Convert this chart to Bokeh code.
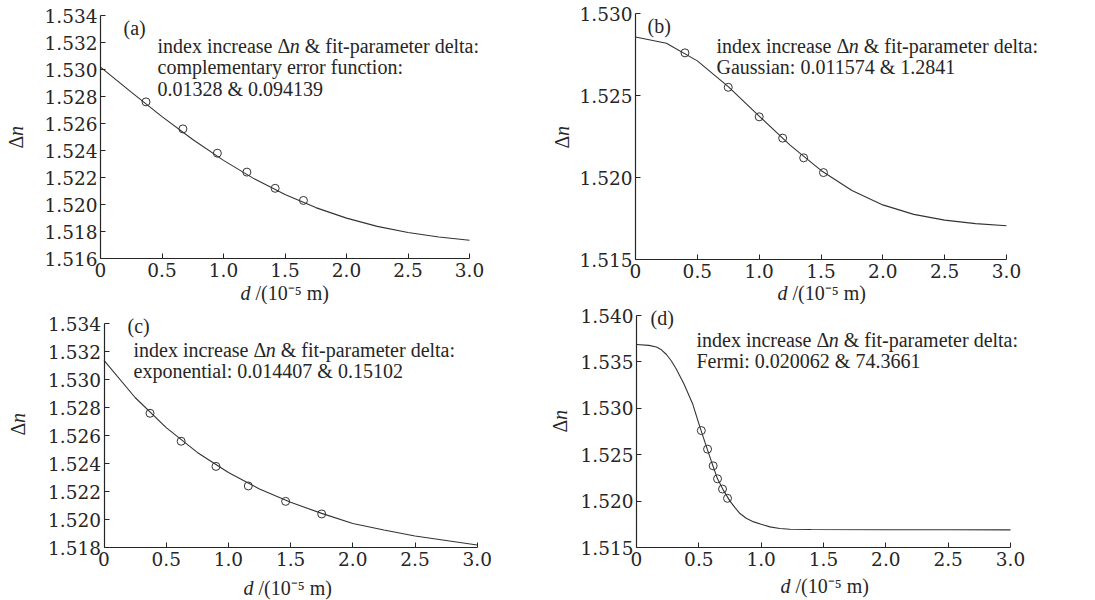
import math
from bokeh.plotting import figure
from bokeh.models import Range1d, FixedTicker, Label, LinearAxis
from bokeh.layouts import column, row
from bokeh.embed import file_html
from bokeh.resources import INLINE

# ---------------- data ----------------
x_ticks = [0, 0.5, 1.0, 1.5, 2.0, 2.5, 3.0]
x_tick_labels = ["0", "0.5", "1.0", "1.5", "2.0", "2.5", "3.0"]

a_y_ticks = [1.516, 1.518, 1.520, 1.522, 1.524, 1.526, 1.528, 1.530, 1.532, 1.534]
b_y_ticks = [1.515, 1.520, 1.525, 1.530]
c_y_ticks = [1.518, 1.520, 1.522, 1.524, 1.526, 1.528, 1.530, 1.532, 1.534]
d_y_ticks = [1.515, 1.520, 1.525, 1.530, 1.535, 1.540]

curve_x = [0, 0.25, 0.5, 0.75, 1.0, 1.25, 1.5, 1.75, 2.0, 2.25, 2.5, 2.75, 3.0]
a_curve_y = [1.53018, 1.52832, 1.52651, 1.52481, 1.52327, 1.52190, 1.52074, 1.51977,
             1.51899, 1.51838, 1.51792, 1.51759, 1.51735]
b_curve_y = [1.52857, 1.52819, 1.52711, 1.52554, 1.52374, 1.52197, 1.52043, 1.51921,
             1.51833, 1.51775, 1.51740, 1.51719, 1.51706]
c_curve_y = [1.53138, 1.52873, 1.52657, 1.52480, 1.52336, 1.52218, 1.52123, 1.52044,
             1.51972, 1.51925, 1.51882, 1.51850, 1.51818]
d_curve_x = [0, 0.10, 0.16, 0.20, 0.24, 0.28, 0.32, 0.38, 0.45, 0.50, 0.55, 0.60, 0.65,
             0.70, 0.75, 0.79, 0.83, 0.88, 0.94, 1.00, 1.07, 1.15, 1.23, 1.40, 2.0, 2.5, 3.0]
d_curve_y = [1.53688, 1.53678, 1.53660, 1.53630, 1.53580, 1.53510, 1.53420, 1.53265,
             1.53050, 1.52835, 1.52630, 1.52430, 1.52240, 1.52110, 1.52000, 1.51930,
             1.51866, 1.51815, 1.51776, 1.51750, 1.51722, 1.51705, 1.51697, 1.51694,
             1.51692, 1.51691, 1.51690]

a_pts_x = [0.37, 0.67, 0.95, 1.19, 1.42, 1.65]
a_pts_y = [1.5276, 1.5256, 1.5238, 1.5224, 1.5212, 1.5203]
b_pts_x = [0.40, 0.75, 1.00, 1.19, 1.36, 1.52]
b_pts_y = [1.5276, 1.5255, 1.5237, 1.5224, 1.5212, 1.5203]
c_pts_x = [0.37, 0.62, 0.90, 1.16, 1.46, 1.75]
c_pts_y = [1.5276, 1.5256, 1.5238, 1.5224, 1.5213, 1.5204]
d_pts_x = [0.52, 0.57, 0.615, 0.65, 0.69, 0.73]
d_pts_y = [1.5276, 1.5256, 1.5238, 1.5224, 1.5213, 1.5203]

headline_a = "index increase Δ"
headline_b = "& fit-parameter delta:"
a_lines = ["complementary error function:", "0.01328 & 0.094139"]
b_lines = ["Gaussian: 0.011574 & 1.2841"]
c_lines = ["exponential: 0.014407 & 0.15102"]
d_lines = ["Fermi: 0.020062 & 74.3661"]

# ---------------- style ----------------
TXT_FONT = "Liberation Serif"
TXT_SIZE = 20
TICK_FONT = "DejaVu Serif"
INK = "#262626"
TOP_H = 304
BOT_H = 296


def panel(W, H, frame, yr, yticks, cx, cy, px, py, tag, lines,
          tag_pos, txt_pos, xt_pos, yt_pos):
    L, R, T, B = frame              # pixel box of the axes inside the canvas
    y0, y1 = yr
    xppu = (R - L) / 3.0
    yppu = (B - T) / (y1 - y0)
    p = figure(width=W, height=H, output_backend="svg", toolbar_location=None,
               x_axis_location=None, y_axis_location=None, min_border=0,
               x_range=Range1d(-L / xppu, 3.0 + (W - R) / xppu),
               y_range=Range1d(y0 - (H - B) / yppu, y1 + T / yppu))
    p.outline_line_color = None
    p.grid.visible = False
    p.background_fill_color = "white"
    p.border_fill_color = "white"

    xax = LinearAxis(fixed_location=y0, bounds=(0, 3.0),
                     ticker=FixedTicker(ticks=x_ticks))
    xax.major_label_overrides = {t: s for t, s in zip(x_ticks, x_tick_labels)}
    xax.major_label_standoff = 4
    yax = LinearAxis(fixed_location=0, bounds=(y0, y1),
                     ticker=FixedTicker(ticks=yticks))
    yax.major_label_overrides = {t: f"{t:.3f}" for t in yticks}
    yax.major_label_standoff = 3
    for ax in (xax, yax):
        ax.axis_line_color = INK
        ax.axis_line_width = 1.2
        ax.major_tick_line_color = INK
        ax.major_tick_in = 5
        ax.major_tick_out = 0
        ax.minor_tick_line_color = None
        ax.major_label_text_font = TICK_FONT
        ax.major_label_text_font_size = "18.5px"
        ax.major_label_text_color = INK
    p.add_layout(xax, "below")
    p.add_layout(yax, "left")

    p.line(cx, cy, line_color="#333333", line_width=1.1)
    p.scatter(px, py, marker="circle", size=8, fill_color=None,
              line_color="#333333", line_width=1)

    def lab(text, cxp, cyp, italic=False, angle=0.0):
        p.add_layout(Label(x=cxp, y=H - cyp, x_units="screen", y_units="screen",
                           text=text, text_font=TXT_FONT,
                           text_font_size=f"{TXT_SIZE}px",
                           text_font_style="italic" if italic else "normal",
                           text_color=INK, text_align="left",
                           text_baseline="middle", angle=angle))

    lab(tag, *tag_pos)
    sx, sy = txt_pos
    w1 = 6.61 * TXT_SIZE
    lab(headline_a, sx, sy)
    lab("n", sx + w1, sy, italic=True)
    lab(headline_b, sx + w1 + 0.75 * TXT_SIZE, sy)
    for i, ln in enumerate(lines):
        lab(ln, sx, sy + 21.5 * (i + 1))
    xs, ys = xt_pos
    lab("d", xs, ys, italic=True)
    lab("/(10⁻⁵ m)", xs + 0.75 * TXT_SIZE, ys)
    xs, ys = yt_pos
    lab("Δ", xs, ys, angle=math.pi / 2)
    lab("n", xs, ys - 12.5, angle=math.pi / 2, italic=True)
    return p


pa = panel(540, TOP_H, (100, 469, 15, 258), (1.516, 1.534), a_y_ticks, curve_x, a_curve_y,
           a_pts_x, a_pts_y, "(a)", a_lines,
           (123, 27), (157, 45), (240, 292), (15, 148))
pb = panel(555, TOP_H, (95, 466, 13, 259), (1.515, 1.530), b_y_ticks, curve_x, b_curve_y,
           b_pts_x, b_pts_y, "(b)", b_lines,
           (107, 25), (176, 45), (237, 292), (21, 148))
pc = panel(540, BOT_H, (103.5, 476.7, 19.3, 243), (1.518, 1.534), c_y_ticks, curve_x, c_curve_y,
           c_pts_x, c_pts_y, "(c)", c_lines,
           (127, 21), (133, 45), (243, 283), (17, 131))
pd = panel(555, BOT_H, (96, 470, 11, 243), (1.515, 1.540), d_y_ticks, d_curve_x, d_curve_y,
           d_pts_x, d_pts_y, "(d)", d_lines,
           (110, 13), (156, 35), (240, 281), (19, 128))

layout = column(row(pa, pb), row(pc, pd))
open("out.html", "w").write(file_html(layout, INLINE))
